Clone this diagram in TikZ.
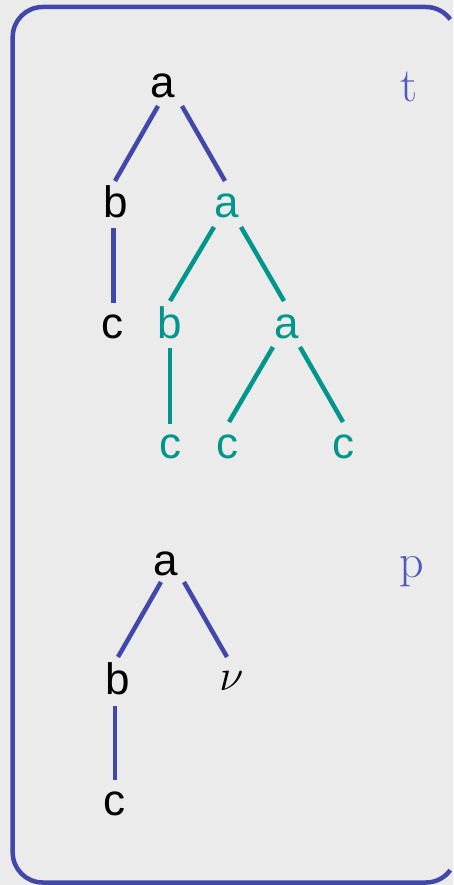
\RequirePackage{fix-cm}
\documentclass[tikz,border=0pt]{standalone}
\usepackage{fontspec}
\newfontfamily\sansf{Liberation Sans}
\usetikzlibrary{calc}
\definecolor{bgc}{RGB}{235,235,235}
\definecolor{lineblue}{RGB}{66,72,170}
\definecolor{labelblue}{RGB}{80,88,188}
\definecolor{tealc}{RGB}{0,150,140}
\tikzset{
  frame/.style={draw=lineblue, line width=4.5pt},
  lbl/.style={anchor=base, inner sep=0pt, font=\sansf\fontsize{44}{50}\selectfont},
  tlbl/.style={lbl, text=tealc},
  side/.style={anchor=base, inner sep=0pt, text=labelblue, font=\fontsize{48}{54}\selectfont},
  bedge/.style={draw=lineblue, line width=4.5pt},
  tedge/.style={draw=tealc, line width=4.5pt}
}
\begin{document}
\begin{tikzpicture}[x=1pt,y=-1pt]
\useasboundingbox (0,0) rectangle (453,885);
\fill[bgc] (0,0) rectangle (453,885);
\draw[frame] (450.27,19.37) arc[start angle=36,end angle=90,radius=30pt]
  -- (42.7,7) arc[start angle=90,end angle=180,radius=30pt]
  -- (12.7,852.5) arc[start angle=180,end angle=270,radius=30pt]
  -- (426,882.5) arc[start angle=270,end angle=324,radius=30pt];
% tree t
\node[lbl] (ra) at (163,98) {a};
\node[lbl] (rb) at (115.5,218) {b};
\node[tlbl] (ra2) at (226.5,218) {a};
\node[lbl] (rc) at (112.5,338) {c};
\node[tlbl] (tb) at (170,338) {b};
\node[tlbl] (ta3) at (286.5,338) {a};
\node[tlbl] (tc1) at (170,458) {c};
\node[tlbl] (tc2) at (227,458) {c};
\node[tlbl] (tc3) at (343,458) {c};
\node[side] (tl) at (409,102) {t};
\draw[bedge] ($(ra.base)+(-5,8)$) -- ($(rb.base)+(-0.5,-37)$);
\draw[bedge] ($(ra.base)+(19,8)$) -- ($(ra2.base)+(-1.5,-37)$);
\draw[bedge] ($(rb.base)+(-2.2,10)$) -- ($(rc.base)+(0.8,-35)$);
\draw[tedge] ($(ra2.base)+(-12.5,9)$) -- ($(tb.base)+(0,-37)$);
\draw[tedge] ($(ra2.base)+(14.5,9)$) -- ($(ta3.base)+(-2.5,-37)$);
\draw[tedge] ($(tb.base)+(0,10)$) -- ($(tc1.base)+(0,-34)$);
\draw[tedge] ($(ta3.base)+(-13.5,9)$) -- ($(tc2.base)+(2,-36)$);
\draw[tedge] ($(ta3.base)+(13.5,9)$) -- ($(tc3.base)+(0,-36)$);
% tree p
\node[lbl] (pa) at (165.5,575) {a};
\node[lbl] (pb) at (117.5,694) {b};
\node[anchor=base, inner sep=0pt, font=\fontsize{44}{50}\selectfont] (nu) at (231.5,690) {$\nu$};
\node[lbl] (pc) at (114.5,815) {c};
\node[side] (pl) at (412,577) {p};
\draw[bedge] ($(pa.base)+(-4.5,7)$) -- ($(pb.base)+(0.5,-37)$);
\draw[bedge] ($(pa.base)+(18.5,7)$) -- ($(nu.base)+(-4.5,-33)$);
\draw[bedge] ($(pb.base)+(-2.5,12)$) -- ($(pc.base)+(0.5,-35)$);
\end{tikzpicture}
\end{document}
